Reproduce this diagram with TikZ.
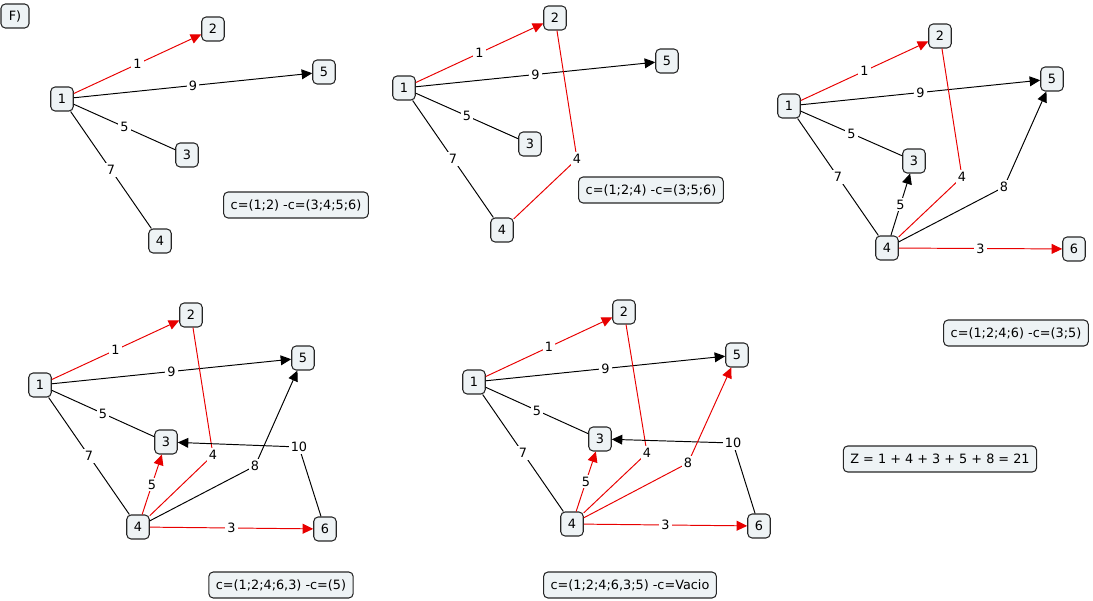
\documentclass[tikz,border=0pt]{standalone}
\usepackage{fontspec}
\setmainfont{DejaVu Sans}
\usetikzlibrary{arrows.meta}
\definecolor{boxfill}{RGB}{238,243,245}
\definecolor{selred}{RGB}{232,0,0}
\tikzset{every picture/.style={x=0.02cm,y=-0.02cm,font=\fontsize{7.3}{9}\selectfont,>={Triangle[length=6pt,width=5.6pt]}},
  vtx/.style={rectangle,rounded corners=2.5pt,draw=black!85,fill=boxfill,line width=0.6pt,minimum width=0.45cm,minimum height=0.48cm,inner xsep=3.5pt,inner ysep=1pt},
  note/.style={vtx,minimum height=0.52cm,inner xsep=4pt},
  wt/.style={fill=white,inner sep=1.2pt},
  blk/.style={draw=black,line width=0.55pt},
  rd/.style={draw=selred,line width=0.55pt}}

\begin{document}
\begin{tikzpicture}
        \useasboundingbox (0,0) rectangle (1093,601);
        \node[vtx, minimum width=0.56cm] (f) at (15,16) {F)};

        \node[vtx] (a1) at (62,99) {1};
        \node[vtx] (a2) at (213,29) {2};
        \node[vtx] (a3) at (187,155) {3};
        \node[vtx] (a4) at (160,241) {4};
        \node[vtx] (a5) at (324,72) {5};
        \node[note] (ca) at (296,205) {c=(1;2) -c=(3;4;5;6)};

        \node[vtx] (b1) at (404,88) {1};
        \node[vtx] (b2) at (555,18) {2};
        \node[vtx] (b3) at (530,144) {3};
        \node[vtx] (b4) at (502,230) {4};
        \node[vtx] (b5) at (667,61) {5};
        \node[note] (cb) at (651,190) {c=(1;2;4) -c=(3;5;6)};

        \node[vtx] (c1) at (789,106) {1};
        \node[vtx] (c2) at (940,36) {2};
        \node[vtx] (c3) at (914,161) {3};
        \node[vtx] (c4) at (887,248) {4};
        \node[vtx] (c5) at (1052,79) {5};
        \node[vtx] (c6) at (1074,249) {6};
        \node[note] (cc) at (1016,333) {c=(1;2;4;6) -c=(3;5)};

        \node[vtx] (d1) at (40,385) {1};
        \node[vtx] (d2) at (191,315) {2};
        \node[vtx] (d3) at (166,442) {3};
        \node[vtx] (d4) at (138,527) {4};
        \node[vtx] (d5) at (303,358) {5};
        \node[vtx] (d6) at (325,529) {6};
        \node[note] (cd) at (281,585) {c=(1;2;4;6,3) -c=(5)};

        \node[vtx] (e1) at (474,382) {1};
        \node[vtx] (e2) at (624,312) {2};
        \node[vtx] (e3) at (600,439) {3};
        \node[vtx] (e4) at (572,524) {4};
        \node[vtx] (e5) at (737,355) {5};
        \node[vtx] (e6) at (759,526) {6};
        \node[note] (ce) at (630,585) {c=(1;2;4;6,3;5) -c=Vacio};

        \node[note] (z) at (940,459) {Z = 1 + 4 + 3 + 5 + 8 = 21};

        \coordinate (kb) at (577,159);
        \coordinate (kc) at (962,177);
        \coordinate (mc) at (1004,187);
        \coordinate (kd) at (213,455);
        \coordinate (md) at (255,466);
        \coordinate (nd) at (299,447);
        \coordinate (ke) at (647,453);
        \coordinate (me) at (688,463);
        \coordinate (ne) at (733,443);

        \foreach \from/\to/\w in {
          a1/a3/5, a1/a4/7, b1/b3/5, b1/b4/7, c1/c3/5, c1/c4/7,
          d1/d3/5, d1/d4/7, e1/e3/5, e1/e4/7}
        \draw[blk] (\from) -- node[wt] {\w} (\to);

        \foreach \from/\to/\w in {
          a1/a5/9, b1/b5/9, c1/c5/9, c4/c3/5, d1/d5/9, e1/e5/9}
        \draw[blk, ->] (\from) -- node[wt] {\w} (\to);

        \foreach \from/\to/\w in {
          a1/a2/1, b1/b2/1, c1/c2/1, c4/c6/3,
          d1/d2/1, d4/d3/5, d4/d6/3,
          e1/e2/1, e4/e3/5, e4/e6/3}
        \draw[rd, ->] (\from) -- node[wt] {\w} (\to);

        \foreach \from/\via/\to/\w in {
          b2/kb/b4/4, c2/kc/c4/4, d2/kd/d4/4, e2/ke/e4/4}
        \draw[rd] (\from) -- (\via) node[wt] {\w} -- (\to);

        \foreach \from/\via/\to/\w in {
          c4/mc/c5/8, d4/md/d5/8, d6/nd/d3/10, e6/ne/e3/10}
        \draw[blk, ->] (\from) -- (\via) node[wt] {\w} -- (\to);

        \draw[rd, ->] (e4) -- (me) node[wt] {8} -- (e5);
      \end{tikzpicture}
\end{document}
